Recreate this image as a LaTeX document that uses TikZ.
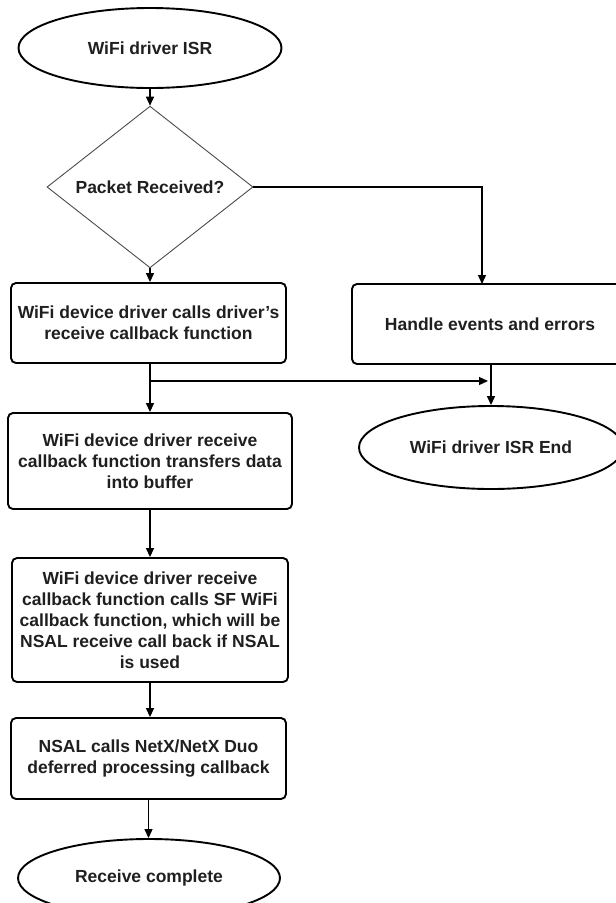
\documentclass[tikz,border=0pt]{standalone}
\usepackage{fontspec}
\setmainfont{Liberation Sans}
\usetikzlibrary{shapes.geometric,arrows.meta}
\begin{document}
\begin{tikzpicture}[x=1pt,y=-1pt,
  every node/.style={font=\bfseries\fontsize{17.5}{21}\selectfont, text=black!88, align=center, inner sep=0pt},
  proc/.style={draw=black, line width=1.9pt, rounded corners=5pt, fill=white},
  term/.style={draw=black, line width=1.9pt, ellipse, fill=white, minimum width=263, minimum height=80},
  decision/.style={draw=black!70, line width=0.9pt, diamond, fill=white, minimum width=206, minimum height=128},
  arr/.style={draw=black, line width=1.3pt, -{Triangle[length=9pt,width=8pt]}}]
\useasboundingbox (0,0) rectangle (616,903);
\fill[white] (0,0) rectangle (616,903);

% main column
\node[term] (start) at (150,48) {WiFi driver ISR};
\node[decision] (pkt) at (150,187) {Packet Received?};
\node[proc, minimum width=275, minimum height=80] (b1) at (148.5,323)
  {WiFi device driver calls driver{\char"0027}s\\receive callback function};
\node[proc, minimum width=284, minimum height=96] (b2) at (150,461)
  {WiFi device driver receive\\callback function transfers data\\into buffer};
\node[proc, minimum width=276, minimum height=124] (b3) at (150,620)
  {WiFi device driver receive\\callback function calls SF WiFi\\callback function, which will be\\NSAL receive call back if NSAL\\is used};
\node[proc, minimum width=275, minimum height=81] (b4) at (148.5,758.5)
  {NSAL calls NetX/NetX Duo\\deferred processing callback};
\node[term, minimum width=262, minimum height=78] (done) at (149,878) {Receive complete};

% error branch
\node[proc, minimum width=276, minimum height=80] (handle) at (490,324) {Handle events and errors};
\node[term, minimum width=264, minimum height=83] (isrend) at (491,447.5) {WiFi driver ISR End};

% connectors
\draw[arr] (start.south) -- (start.south |- pkt.north);
\draw[arr] (pkt.south) -- (pkt.south |- b1.north);
\coordinate (hin) at (482,284);
\draw[arr] (pkt.east) -| (hin);
\draw[arr] (pkt.south |- b1.south) -- (pkt.south |- b2.north);
\coordinate (split) at (150,381);
\coordinate (join) at (488,381);
\draw[arr] (split) -- (join);
\draw[arr] (isrend.north |- handle.south) -- (isrend.north);
\draw[arr] (b2.south) -- (b2.south |- b3.north);
\draw[arr] (b3.south) -- (b3.south |- b4.north);
\draw[arr] (b4.south) -- (b4.south |- done.north);
\end{tikzpicture}
\end{document}
